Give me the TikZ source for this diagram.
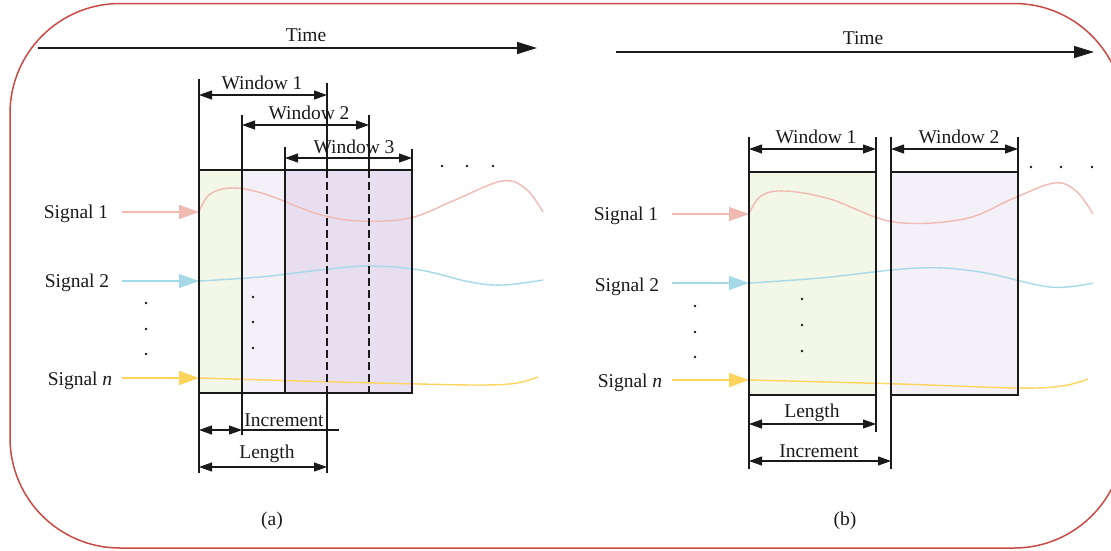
\documentclass[tikz,border=0pt]{standalone}
\usepackage{fontspec}
\setmainfont{Liberation Serif}
\usetikzlibrary{arrows.meta}
\definecolor{framec}{HTML}{C94A42}
\definecolor{greenf}{HTML}{F2F7E7}
\definecolor{lavA}{HTML}{F4F0F8}
\definecolor{lavB}{HTML}{E7DFF0}
\definecolor{pinkc}{HTML}{F0B9B2}
\definecolor{bluec}{HTML}{A6D9E8}
\definecolor{yellowc}{HTML}{FFD45C}
\definecolor{inkc}{HTML}{1A1A1A}
\begin{document}
\begin{tikzpicture}[x=1pt,y=-1pt,
  font=\fontsize{19.5}{22}\selectfont,
  lbl/.style={anchor=base, inner sep=0pt, text=inkc},
  dim/.style={{Triangle[length=13pt,width=9pt]}-{Triangle[length=13pt,width=9pt]}, line width=1.1pt, draw=inkc},
  ext/.style={line width=1.1pt, draw=inkc},
  dsh/.style={line width=1.1pt, draw=inkc, dash pattern=on 8pt off 4pt},
  border/.style={line width=1.8pt, draw=inkc},
  timearrow/.style={-{Triangle[length=20pt,width=12pt]}, line width=1.4pt, draw=inkc},
  sigarrow/.style={-{Triangle[length=20pt,width=14pt]}, line width=1.4pt},
  sig/.style={line width=1.4pt},
  dotc/.style={fill=inkc, radius=1.3pt}
]
\useasboundingbox (0,0) rectangle (1111,550);
\draw[framec, line width=1.5pt, rounded corners=110pt] (10,3.5) rectangle (1124,548);

%%%%%%%%%%%%%%%% Panel (a)
\coordinate (ta0) at (38,48); \coordinate (ta1) at (537,48);
\draw[timearrow] (ta0) -- (ta1);
\node[lbl] (timeA) at (306,41) {Time};

\fill[greenf] (199,170) rectangle (242,393);
\fill[lavA] (242,170) rectangle (285,393);
\fill[lavB] (285,170) rectangle (412,393);

% signals (a)
\coordinate (a1s) at (122,212); \coordinate (a1e) at (199,212);
\coordinate (a2s) at (122,281); \coordinate (a2e) at (199,281);
\coordinate (ans) at (122,378); \coordinate (ane) at (199,378);
\draw[sig, pinkc] plot[smooth, tension=0.6] coordinates {(199,212) (210,194) (233,188) (265,194) (318,214) (360,221) (410,218) (455,200) (502,181) (526,189) (543,212)};
\draw[sig, bluec] plot[smooth, tension=0.6] coordinates {(199,281) (260,277) (320,270) (369,266) (420,270) (470,282) (503,285) (543,280)};
\draw[sig, yellowc] plot[smooth, tension=0.6] coordinates {(199,378) (300,381) (420,384) (485,385) (517,383) (538,377)};
\draw[sigarrow, pinkc] (a1s) -- (a1e);
\draw[sigarrow, bluec] (a2s) -- (a2e);
\draw[sigarrow, yellowc] (ans) -- (ane);
\node[lbl] (sa1) at (76,218) {Signal 1};
\node[lbl] (sa2) at (77,287) {Signal 2};
\node[lbl] (san) at (80,385) {Signal \textit{n}};

% grid lines (a)
\draw[ext] (199,79) -- (199,473);
\draw[ext] (242,115) -- (242,435);
\draw[ext] (285,147) -- (285,393);
\draw[ext] (327,83) -- (327,170);
\draw[dsh] (327,170) -- (327,393);
\draw[ext] (327,393) -- (327,473);
\draw[ext] (369,115) -- (369,170);
\draw[dsh] (369,170) -- (369,393);
\draw[ext] (412,149) -- (412,170);
\draw[border] (199,170) rectangle (412,393);

% windows (a)
\coordinate (w1l) at (199,95); \coordinate (w1r) at (327,95);
\coordinate (w2l) at (242,125); \coordinate (w2r) at (369,125);
\coordinate (w3l) at (285,158); \coordinate (w3r) at (412,158);
\draw[dim] (w1l) -- (w1r);
\draw[dim] (w2l) -- (w2r);
\draw[dim] (w3l) -- (w3r);
\node[lbl] (wa1) at (262,89) {Window 1};
\node[lbl] (wa2) at (309,119) {Window 2};
\node[lbl] (wa3) at (354,153) {Window 3};
\fill[dotc] (442,166) circle; \fill[dotc] (467,166) circle; \fill[dotc] (493,166) circle;
\fill[dotc] (146,303) circle; \fill[dotc] (146,329) circle; \fill[dotc] (146,354) circle;
\fill[dotc] (253,297) circle; \fill[dotc] (253,322) circle; \fill[dotc] (253,348) circle;

% bottom (a)
\coordinate (ia) at (199,430); \coordinate (ib) at (242,430); \coordinate (ic) at (339,430);
\draw[dim] (ia) -- (ib);
\draw[ext] (ib) -- (ic);
\node[lbl] (incA) at (284,426) {Increment};
\coordinate (la) at (199,467); \coordinate (lb) at (327,467);
\draw[dim] (la) -- (lb);
\node[lbl] (lenA) at (267,458) {Length};
\node[lbl] (capA) at (272,525) {(a)};

%%%%%%%%%%%%%%%% Panel (b)
\coordinate (tb0) at (616,52); \coordinate (tb1) at (1094,52);
\draw[timearrow] (tb0) -- (tb1);
\node[lbl] (timeB) at (863,44) {Time};

\fill[greenf] (749,172) rectangle (876,395);
\fill[lavA] (891,172) rectangle (1018,395);

\coordinate (b1s) at (672,214); \coordinate (b1e) at (749,214);
\coordinate (b2s) at (672,283); \coordinate (b2e) at (749,283);
\coordinate (bns) at (672,380); \coordinate (bne) at (749,380);
\draw[sig, pinkc] plot[smooth, tension=0.6] coordinates {(749,214) (761,196) (785,191) (830,199) (894,222) (964,219) (1012,199) (1054,183) (1076,191) (1093,214)};
\draw[sig, bluec] plot[smooth, tension=0.6] coordinates {(749,283) (820,278) (918,268) (980,272) (1050,287) (1093,283)};
\draw[sig, yellowc] plot[smooth, tension=0.6] coordinates {(749,380) (900,384) (1017,388) (1062,386) (1088,379)};
\draw[sigarrow, pinkc] (b1s) -- (b1e);
\draw[sigarrow, bluec] (b2s) -- (b2e);
\draw[sigarrow, yellowc] (bns) -- (bne);
\node[lbl] (sb1) at (626,220) {Signal 1};
\node[lbl] (sb2) at (627,291) {Signal 2};
\node[lbl] (sbn) at (630,387) {Signal \textit{n}};

\draw[ext] (749,137) -- (749,469);
\draw[ext] (876,137) -- (876,432);
\draw[ext] (891,137) -- (891,469);
\draw[ext] (1018,137) -- (1018,172);
\draw[border] (749,172) rectangle (876,395);
\draw[border] (891,172) rectangle (1018,395);

\coordinate (v1l) at (749,149); \coordinate (v1r) at (876,149);
\coordinate (v2l) at (891,149); \coordinate (v2r) at (1018,149);
\draw[dim] (v1l) -- (v1r);
\draw[dim] (v2l) -- (v2r);
\node[lbl] (wb1) at (816,143) {Window 1};
\node[lbl] (wb2) at (959,143) {Window 2};
\fill[dotc] (1031,167) circle; \fill[dotc] (1061,167) circle; \fill[dotc] (1092,167) circle;
\fill[dotc] (695,306) circle; \fill[dotc] (695,332) circle; \fill[dotc] (695,357) circle;
\fill[dotc] (802,299) circle; \fill[dotc] (802,325) circle; \fill[dotc] (802,351) circle;

\coordinate (lba) at (749,424); \coordinate (lbb) at (876,424);
\draw[dim] (lba) -- (lbb);
\node[lbl] (lenB) at (812,417) {Length};
\coordinate (iba) at (749,461); \coordinate (ibb) at (891,461);
\draw[dim] (iba) -- (ibb);
\node[lbl] (incB) at (819,457) {Increment};
\node[lbl] (capB) at (845,525) {(b)};
\end{tikzpicture}
\end{document}
